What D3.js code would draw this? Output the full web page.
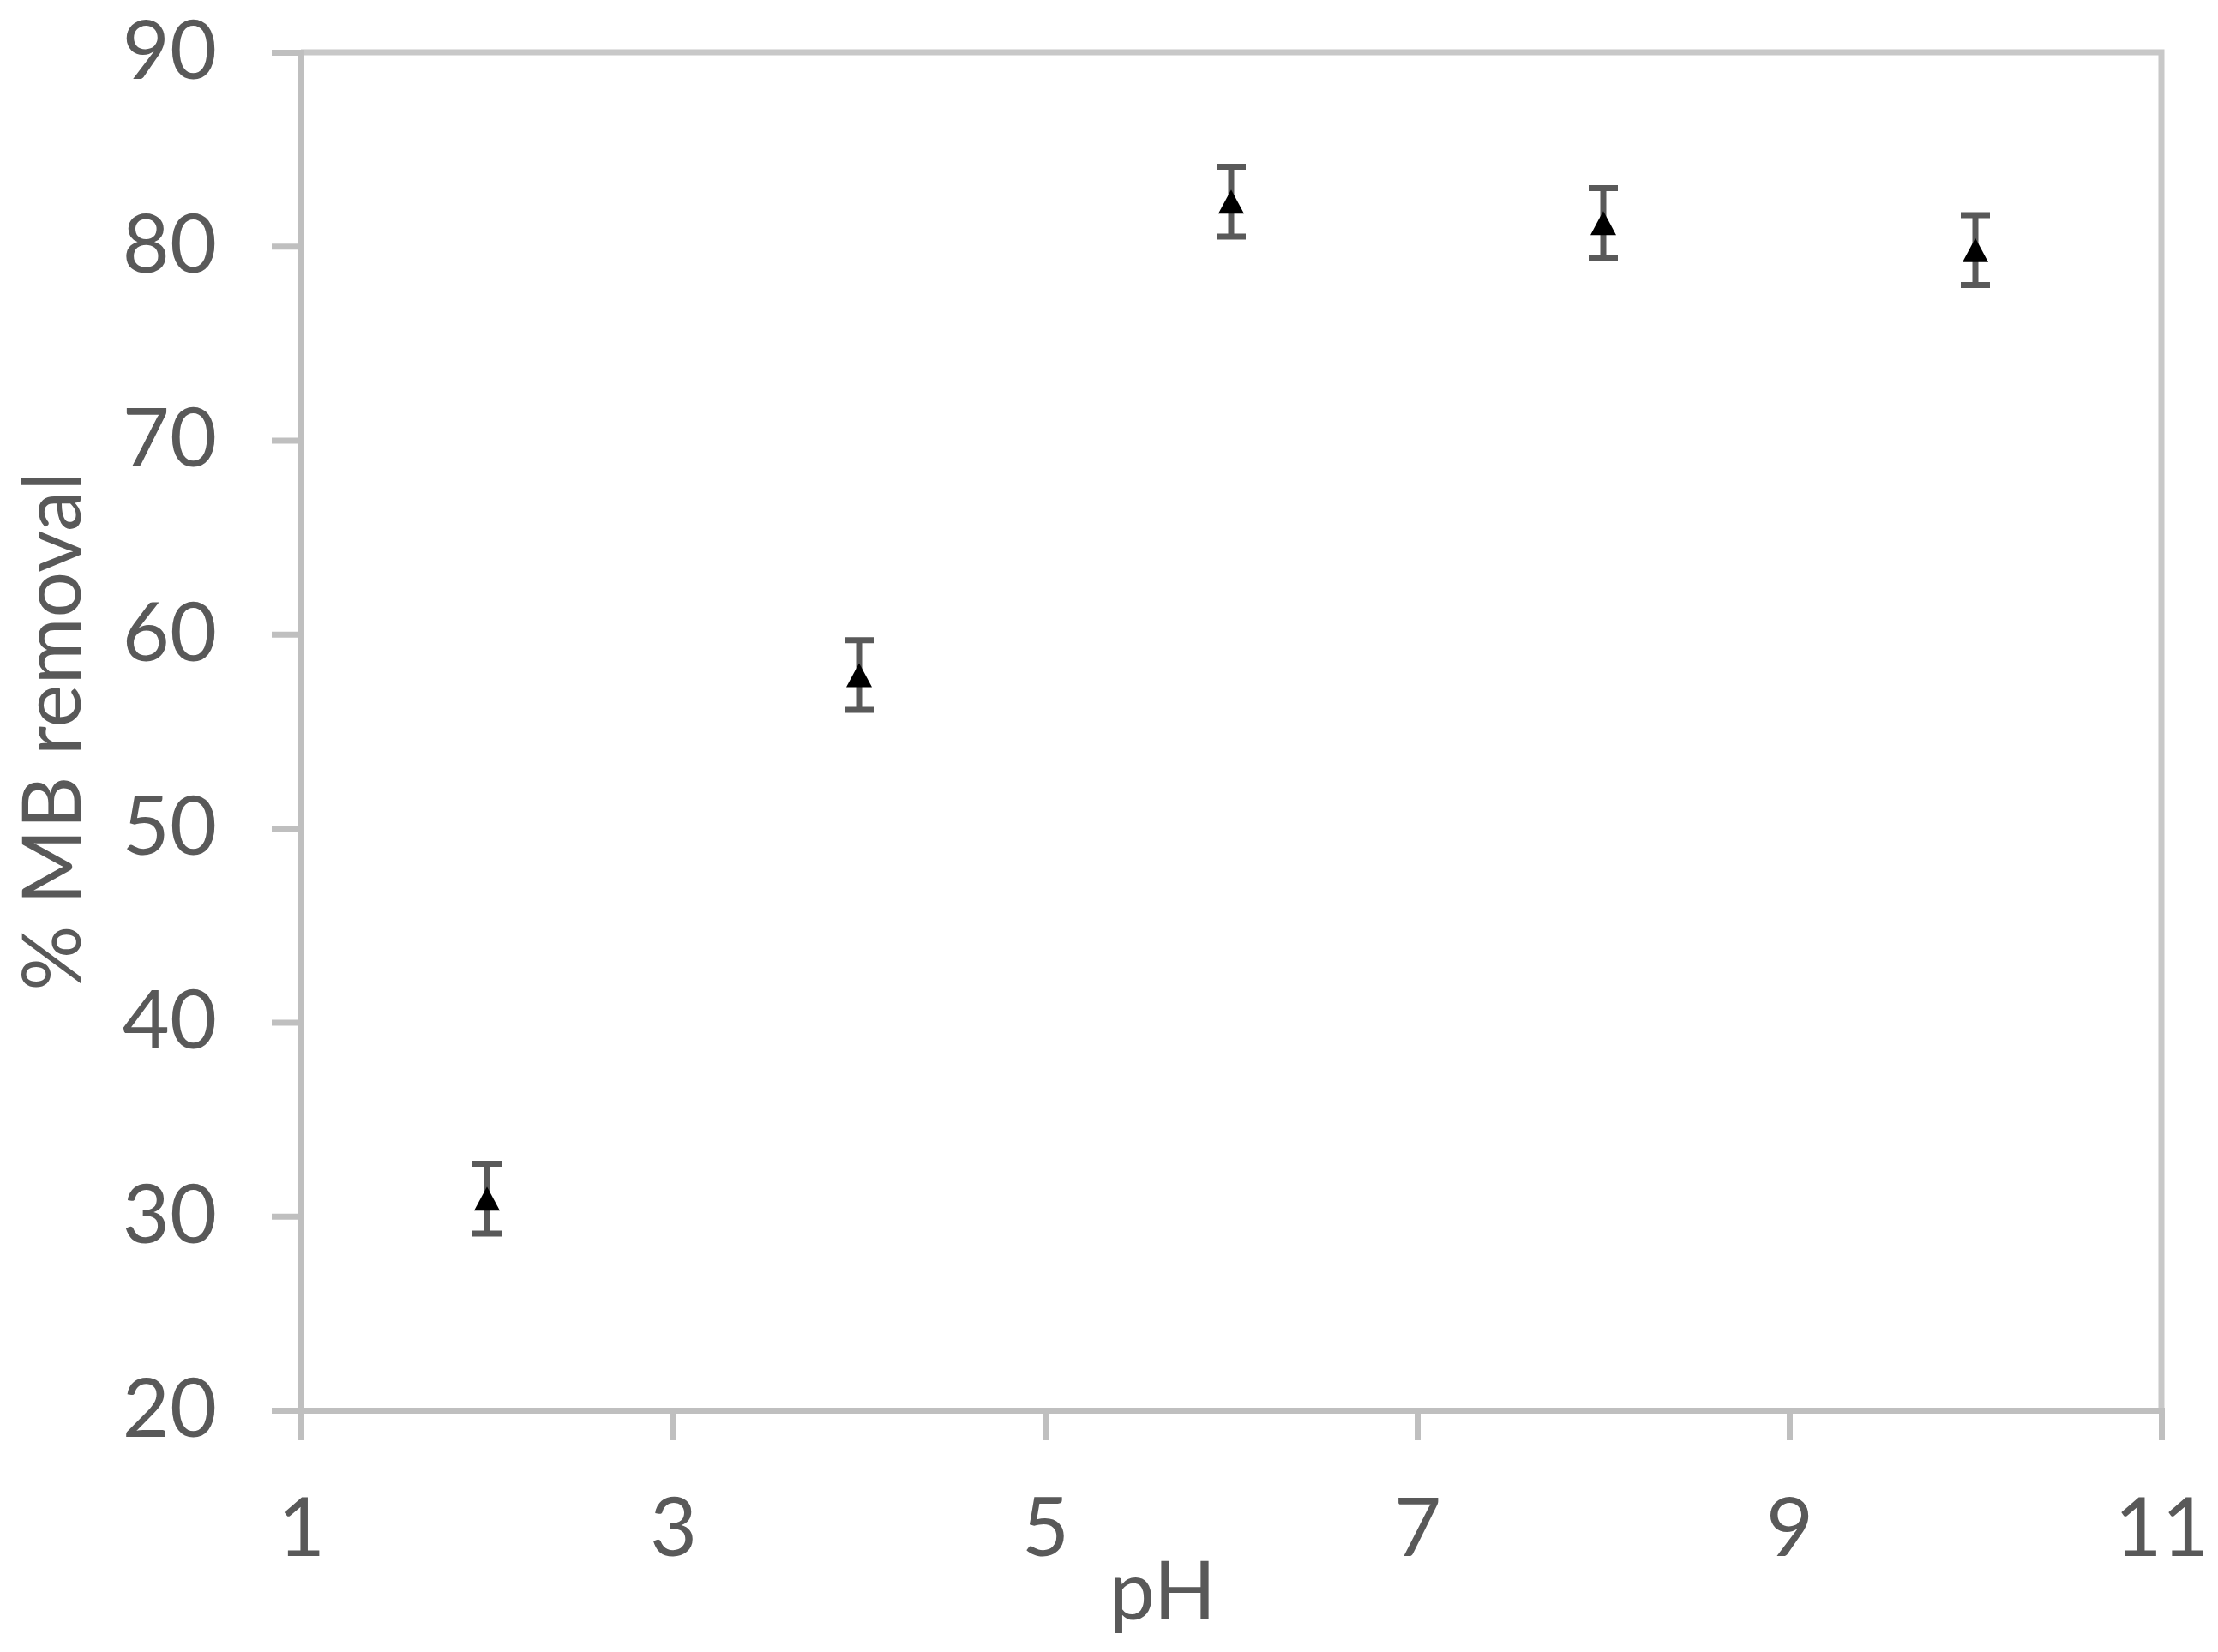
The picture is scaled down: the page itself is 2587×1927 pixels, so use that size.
<!DOCTYPE html>
<html>
<head>
<meta charset="utf-8">
<script src="https://cdn.jsdelivr.net/npm/d3@7"></script>
<style>
  html, body { margin: 0; padding: 0; background: #fff; }
  .axis path, .axis line { stroke: #bfbfbf; stroke-width: 7; }
  .axis text { fill: #595959; font-family: Lato, "Open Sans", sans-serif; font-size: 95px; }
</style>
</head>
<body>
<div id="chart"></div>
<script>
var
  width = 2587,
  height = 1927;

// data
var phValues = [2, 4, 6, 8, 10];
var removal = [30.9, 57.9, 82.3, 81.2, 79.8];
var errors = [1.8, 1.8, 1.8, 1.8, 1.8];
var xTicks = [1, 3, 5, 7, 9, 11];
var yTicks = [20, 30, 40, 50, 60, 70, 80, 90];

var margin = { left: 351, right: 66, top: 61, bottom: 282 };

var svg = d3.select("#chart")
  .append("svg")
  .attr("width", width)
  .attr("height", height);

var x = d3.scaleLinear().domain([1, 11]).range([margin.left, width - margin.right]);
var y = d3.scaleLinear().domain([20, 90]).range([height - margin.bottom, margin.top]);

// frame (top and right)
svg.append("path")
  .attr("d", "M" + x(1) + "," + y(90) + "H" + x(11) + "V" + y(20))
  .attr("fill", "none")
  .attr("stroke", "#c8c8c8")
  .attr("stroke-width", 7);

var yAxis = svg.append("g")
  .attr("class", "axis")
  .attr("transform", "translate(" + x(1) + ",0)")
  .call(d3.axisLeft(y).tickValues(yTicks).tickSize(34).tickSizeOuter(0).tickPadding(64));

var xAxis = svg.append("g")
  .attr("class", "axis")
  .attr("transform", "translate(0," + y(20) + ")")
  .call(d3.axisBottom(x).tickValues(xTicks).tickSize(35).tickSizeOuter(0));
xAxis.selectAll("text").attr("dy", null).attr("y", 170);

svg.selectAll(".domain").attr("stroke-linecap", "square");

// axis titles
svg.append("text")
  .attr("x", 1356)
  .attr("y", 1889)
  .attr("text-anchor", "middle")
  .attr("fill", "#595959")
  .style("font-family", "Lato, 'Open Sans', sans-serif")
  .style("font-size", "95px")
  .text("pH");

svg.append("text")
  .attr("transform", "translate(94," + (y(20) + y(90)) / 2 + ") rotate(-90)")
  .attr("text-anchor", "middle")
  .attr("fill", "#595959")
  .style("font-family", "Lato, 'Open Sans', sans-serif")
  .style("font-size", "95px")
  .text("% MB removal");

// error bars
var pts = phValues.map(function(d, i) { return { ph: d, v: removal[i], e: errors[i] }; });
var bars = svg.selectAll(".err")
  .data(pts)
  .enter().append("g")
  .attr("class", "err")
  .attr("stroke", "#595959")
  .attr("stroke-width", 7);

bars.append("line")
  .attr("x1", function(d) { return x(d.ph); })
  .attr("x2", function(d) { return x(d.ph); })
  .attr("y1", function(d) { return y(d.v + d.e); })
  .attr("y2", function(d) { return y(d.v - d.e); });
bars.append("line")
  .attr("x1", function(d) { return x(d.ph) - 17; })
  .attr("x2", function(d) { return x(d.ph) + 17; })
  .attr("y1", function(d) { return y(d.v + d.e); })
  .attr("y2", function(d) { return y(d.v + d.e); });
bars.append("line")
  .attr("x1", function(d) { return x(d.ph) - 17; })
  .attr("x2", function(d) { return x(d.ph) + 17; })
  .attr("y1", function(d) { return y(d.v - d.e); })
  .attr("y2", function(d) { return y(d.v - d.e); });

// markers: small triangle, box-centred on the point
var tri = "M0,-14L15,14H-15Z";
svg.selectAll(".pt")
  .data(pts)
  .enter().append("path")
  .attr("class", "pt")
  .attr("d", tri)
  .attr("transform", function(d) { return "translate(" + x(d.ph) + "," + y(d.v) + ")"; })
  .attr("fill", "#000");
</script>
</body>
</html>
